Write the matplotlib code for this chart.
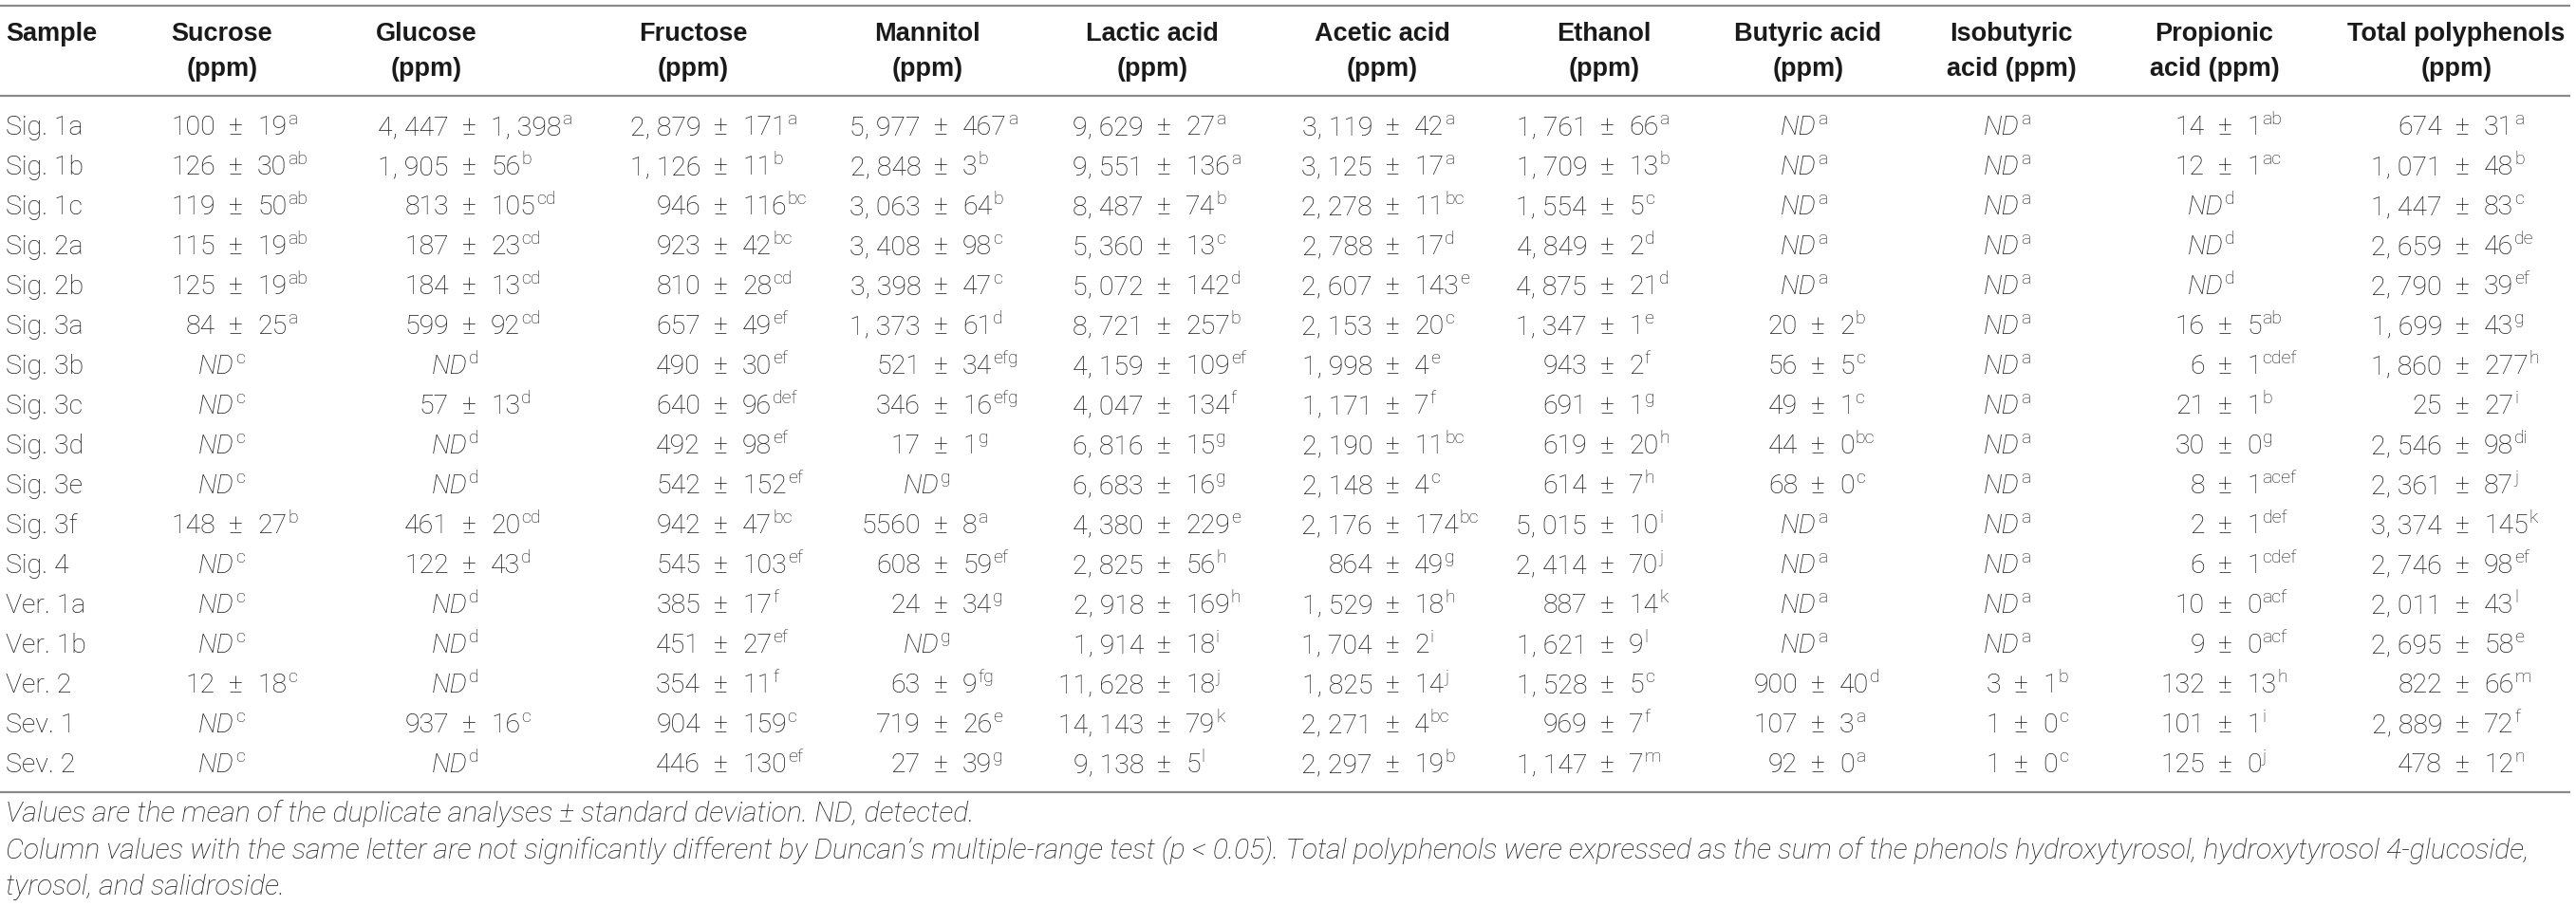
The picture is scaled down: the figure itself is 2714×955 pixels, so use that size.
import matplotlib
matplotlib.use("Agg")
import matplotlib.pyplot as plt

samples = ["Sig. 1a", "Sig. 1b", "Sig. 1c", "Sig. 2a", "Sig. 2b", "Sig. 3a", "Sig. 3b",
           "Sig. 3c", "Sig. 3d", "Sig. 3e", "Sig. 3f", "Sig. 4", "Ver. 1a", "Ver. 1b",
           "Ver. 2", "Sev. 1", "Sev. 2"]

headers = [("Sucrose", "(ppm)"), ("Glucose", "(ppm)"), ("Fructose", "(ppm)"),
           ("Mannitol", "(ppm)"), ("Lactic acid", "(ppm)"), ("Acetic acid", "(ppm)"),
           ("Ethanol", "(ppm)"), ("Butyric acid", "(ppm)"), ("Isobutyric", "acid (ppm)"),
           ("Propionic", "acid (ppm)"), ("Total polyphenols", "(ppm)")]

sucrose = ["100 ± 19", "126 ± 30", "119 ± 50", "115 ± 19", "125 ± 19", "84 ± 25", "ND", "ND",
           "ND", "ND", "148 ± 27", "ND", "ND", "ND", "12 ± 18", "ND", "ND"]
sucrose_sig = ["a", "ab", "ab", "ab", "ab", "a", "c", "c", "c", "c", "b", "c", "c", "c", "c", "c", "c"]

glucose = ["4,447 ± 1,398", "1,905 ± 56", "813 ± 105", "187 ± 23", "184 ± 13", "599 ± 92", "ND",
           "57 ± 13", "ND", "ND", "461 ± 20", "122 ± 43", "ND", "ND", "ND", "937 ± 16", "ND"]
glucose_sig = ["a", "b", "cd", "cd", "cd", "cd", "d", "d", "d", "d", "cd", "d", "d", "d", "d", "c", "d"]

fructose = ["2,879 ± 171", "1,126 ± 11", "946 ± 116", "923 ± 42", "810 ± 28", "657 ± 49",
            "490 ± 30", "640 ± 96", "492 ± 98", "542 ± 152", "942 ± 47", "545 ± 103",
            "385 ± 17", "451 ± 27", "354 ± 11", "904 ± 159", "446 ± 130"]
fructose_sig = ["a", "b", "bc", "bc", "cd", "ef", "ef", "def", "ef", "ef", "bc", "ef", "f", "ef",
                "f", "c", "ef"]

mannitol = ["5,977 ± 467", "2,848 ± 3", "3,063 ± 64", "3,408 ± 98", "3,398 ± 47", "1,373 ± 61",
            "521 ± 34", "346 ± 16", "17 ± 1", "ND", "5560 ± 8", "608 ± 59", "24 ± 34", "ND",
            "63 ± 9", "719 ± 26", "27 ± 39"]
mannitol_sig = ["a", "b", "b", "c", "c", "d", "efg", "efg", "g", "g", "a", "ef", "g", "g", "fg",
                "e", "g"]

lactic = ["9,629 ± 27", "9,551 ± 136", "8,487 ± 74", "5,360 ± 13", "5,072 ± 142", "8,721 ± 257",
          "4,159 ± 109", "4,047 ± 134", "6,816 ± 15", "6,683 ± 16", "4,380 ± 229", "2,825 ± 56",
          "2,918 ± 169", "1,914 ± 18", "11,628 ± 18", "14,143 ± 79", "9,138 ± 5"]
lactic_sig = ["a", "a", "b", "c", "d", "b", "ef", "f", "g", "g", "e", "h", "h", "i", "j", "k", "l"]

acetic = ["3,119 ± 42", "3,125 ± 17", "2,278 ± 11", "2,788 ± 17", "2,607 ± 143", "2,153 ± 20",
          "1,998 ± 4", "1,171 ± 7", "2,190 ± 11", "2,148 ± 4", "2,176 ± 174", "864 ± 49",
          "1,529 ± 18", "1,704 ± 2", "1,825 ± 14", "2,271 ± 4", "2,297 ± 19"]
acetic_sig = ["a", "a", "bc", "d", "e", "c", "e", "f", "bc", "c", "bc", "g", "h", "i", "j", "bc", "b"]

ethanol = ["1,761 ± 66", "1,709 ± 13", "1,554 ± 5", "4,849 ± 2", "4,875 ± 21", "1,347 ± 1",
           "943 ± 2", "691 ± 1", "619 ± 20", "614 ± 7", "5,015 ± 10", "2,414 ± 70", "887 ± 14",
           "1,621 ± 9", "1,528 ± 5", "969 ± 7", "1,147 ± 7"]
ethanol_sig = ["a", "b", "c", "d", "d", "e", "f", "g", "h", "h", "i", "j", "k", "l", "c", "f", "m"]

butyric = ["ND", "ND", "ND", "ND", "ND", "20 ± 2", "56 ± 5", "49 ± 1", "44 ± 0", "68 ± 0", "ND",
           "ND", "ND", "ND", "900 ± 40", "107 ± 3", "92 ± 0"]
butyric_sig = ["a", "a", "a", "a", "a", "b", "c", "c", "bc", "c", "a", "a", "a", "a", "d", "a", "a"]

isobutyric = ["ND"] * 14 + ["3 ± 1", "1 ± 0", "1 ± 0"]
isobutyric_sig = ["a"] * 14 + ["b", "c", "c"]

propionic = ["14 ± 1", "12 ± 1", "ND", "ND", "ND", "16 ± 5", "6 ± 1", "21 ± 1", "30 ± 0", "8 ± 1",
             "2 ± 1", "6 ± 1", "10 ± 0", "9 ± 0", "132 ± 13", "101 ± 1", "125 ± 0"]
propionic_sig = ["ab", "ac", "d", "d", "d", "ab", "cdef", "b", "g", "acef", "def", "cdef", "acf",
                 "acf", "h", "i", "j"]

polyphenols = ["674 ± 31", "1,071 ± 48", "1,447 ± 83", "2,659 ± 46", "2,790 ± 39", "1,699 ± 43",
               "1,860 ± 277", "25 ± 27", "2,546 ± 98", "2,361 ± 87", "3,374 ± 145", "2,746 ± 98",
               "2,011 ± 43", "2,695 ± 58", "822 ± 66", "2,889 ± 72", "478 ± 12"]
polyphenols_sig = ["a", "b", "c", "de", "ef", "g", "h", "i", "di", "j", "k", "ef", "l", "e", "m",
                   "f", "n"]

columns = [(sucrose, sucrose_sig), (glucose, glucose_sig), (fructose, fructose_sig),
           (mannitol, mannitol_sig), (lactic, lactic_sig), (acetic, acetic_sig),
           (ethanol, ethanol_sig), (butyric, butyric_sig), (isobutyric, isobutyric_sig),
           (propionic, propionic_sig), (polyphenols, polyphenols_sig)]

notes = [
    "Values are the mean of the duplicate analyses ± standard deviation. ND, detected.",
    "Column values with the same letter are not significantly different by Duncan’s multiple-range "
    "test (p < 0.05). Total polyphenols were expressed as the sum of the phenols hydroxytyrosol, "
    "hydroxytyrosol 4-glucoside,",
    "tyrosol, and salidroside.",
]

# layout (pixels)
W, H = 2714, 955
head_x = [234, 449, 730, 977, 1214, 1456, 1690, 1905, 2119, 2333, 2588]
pm_x = [248, 494, 759, 991, 1226, 1467, 1693, 1915, 2129, 2344, 2594]
row_y0, row_dy = 132, 42
ink = "#1a1a1a"
body = dict(family="Roboto", fontweight="light", color=ink)
bold = dict(family="Liberation Sans", fontweight="bold", color=ink)
fs, fs_sup, fs_head, fs_note = 20.5, 14, 19.5, 21.7

fig = plt.figure(figsize=(W / 100, H / 100), dpi=100)
ax = fig.add_axes([0, 0, 1, 1])
ax.set_xlim(0, W)
ax.set_ylim(H, 0)
ax.axis("off")
r = fig.canvas.get_renderer()

for y in (6, 101, 835):
    ax.plot([0, 2708], [y, y], color="#8a8a8a", lw=1.6, solid_capstyle="butt")

# header
ax.text(6, 36, "Sample", ha="left", va="center", fontsize=fs_head, **bold)
for (l1, l2), x in zip(headers, head_x):
    ax.text(x, 36, l1, ha="center", va="center", fontsize=fs_head, **bold)
    ax.text(x, 73, l2, ha="center", va="center", fontsize=fs_head, **bold)


def sup(t, letters, base):
    bb = t.get_window_extent(r)
    ax.text(bb.x1 + 1, base - 11, letters, ha="left", va="baseline", fontsize=fs_sup, **body)


for i, name in enumerate(samples):
    base = row_y0 + i * row_dy + 10
    ax.text(6, base, name, ha="left", va="baseline", fontsize=fs, **body)
    for (vals, sig), px in zip(columns, pm_x):
        v = vals[i]
        if v == "ND":
            t = ax.text(px - 39, base, "ND", ha="left", va="baseline", fontsize=fs,
                        style="italic", **body)
        else:
            left, right = [s.strip().replace(",", ", ") for s in v.split("±")]
            ax.text(px - 21, base, left, ha="right", va="baseline", fontsize=fs, **body)
            ax.text(px, base, "±", ha="center", va="baseline", fontsize=fs, **body)
            t = ax.text(px + 23, base, right, ha="left", va="baseline", fontsize=fs, **body)
        sup(t, sig[i], base)

for k, line in enumerate(notes):
    ax.text(6, 858 + 38.5 * k, line, ha="left", va="center", fontsize=fs_note,
            style="italic", **body)

fig.savefig("out.png", dpi=100)
